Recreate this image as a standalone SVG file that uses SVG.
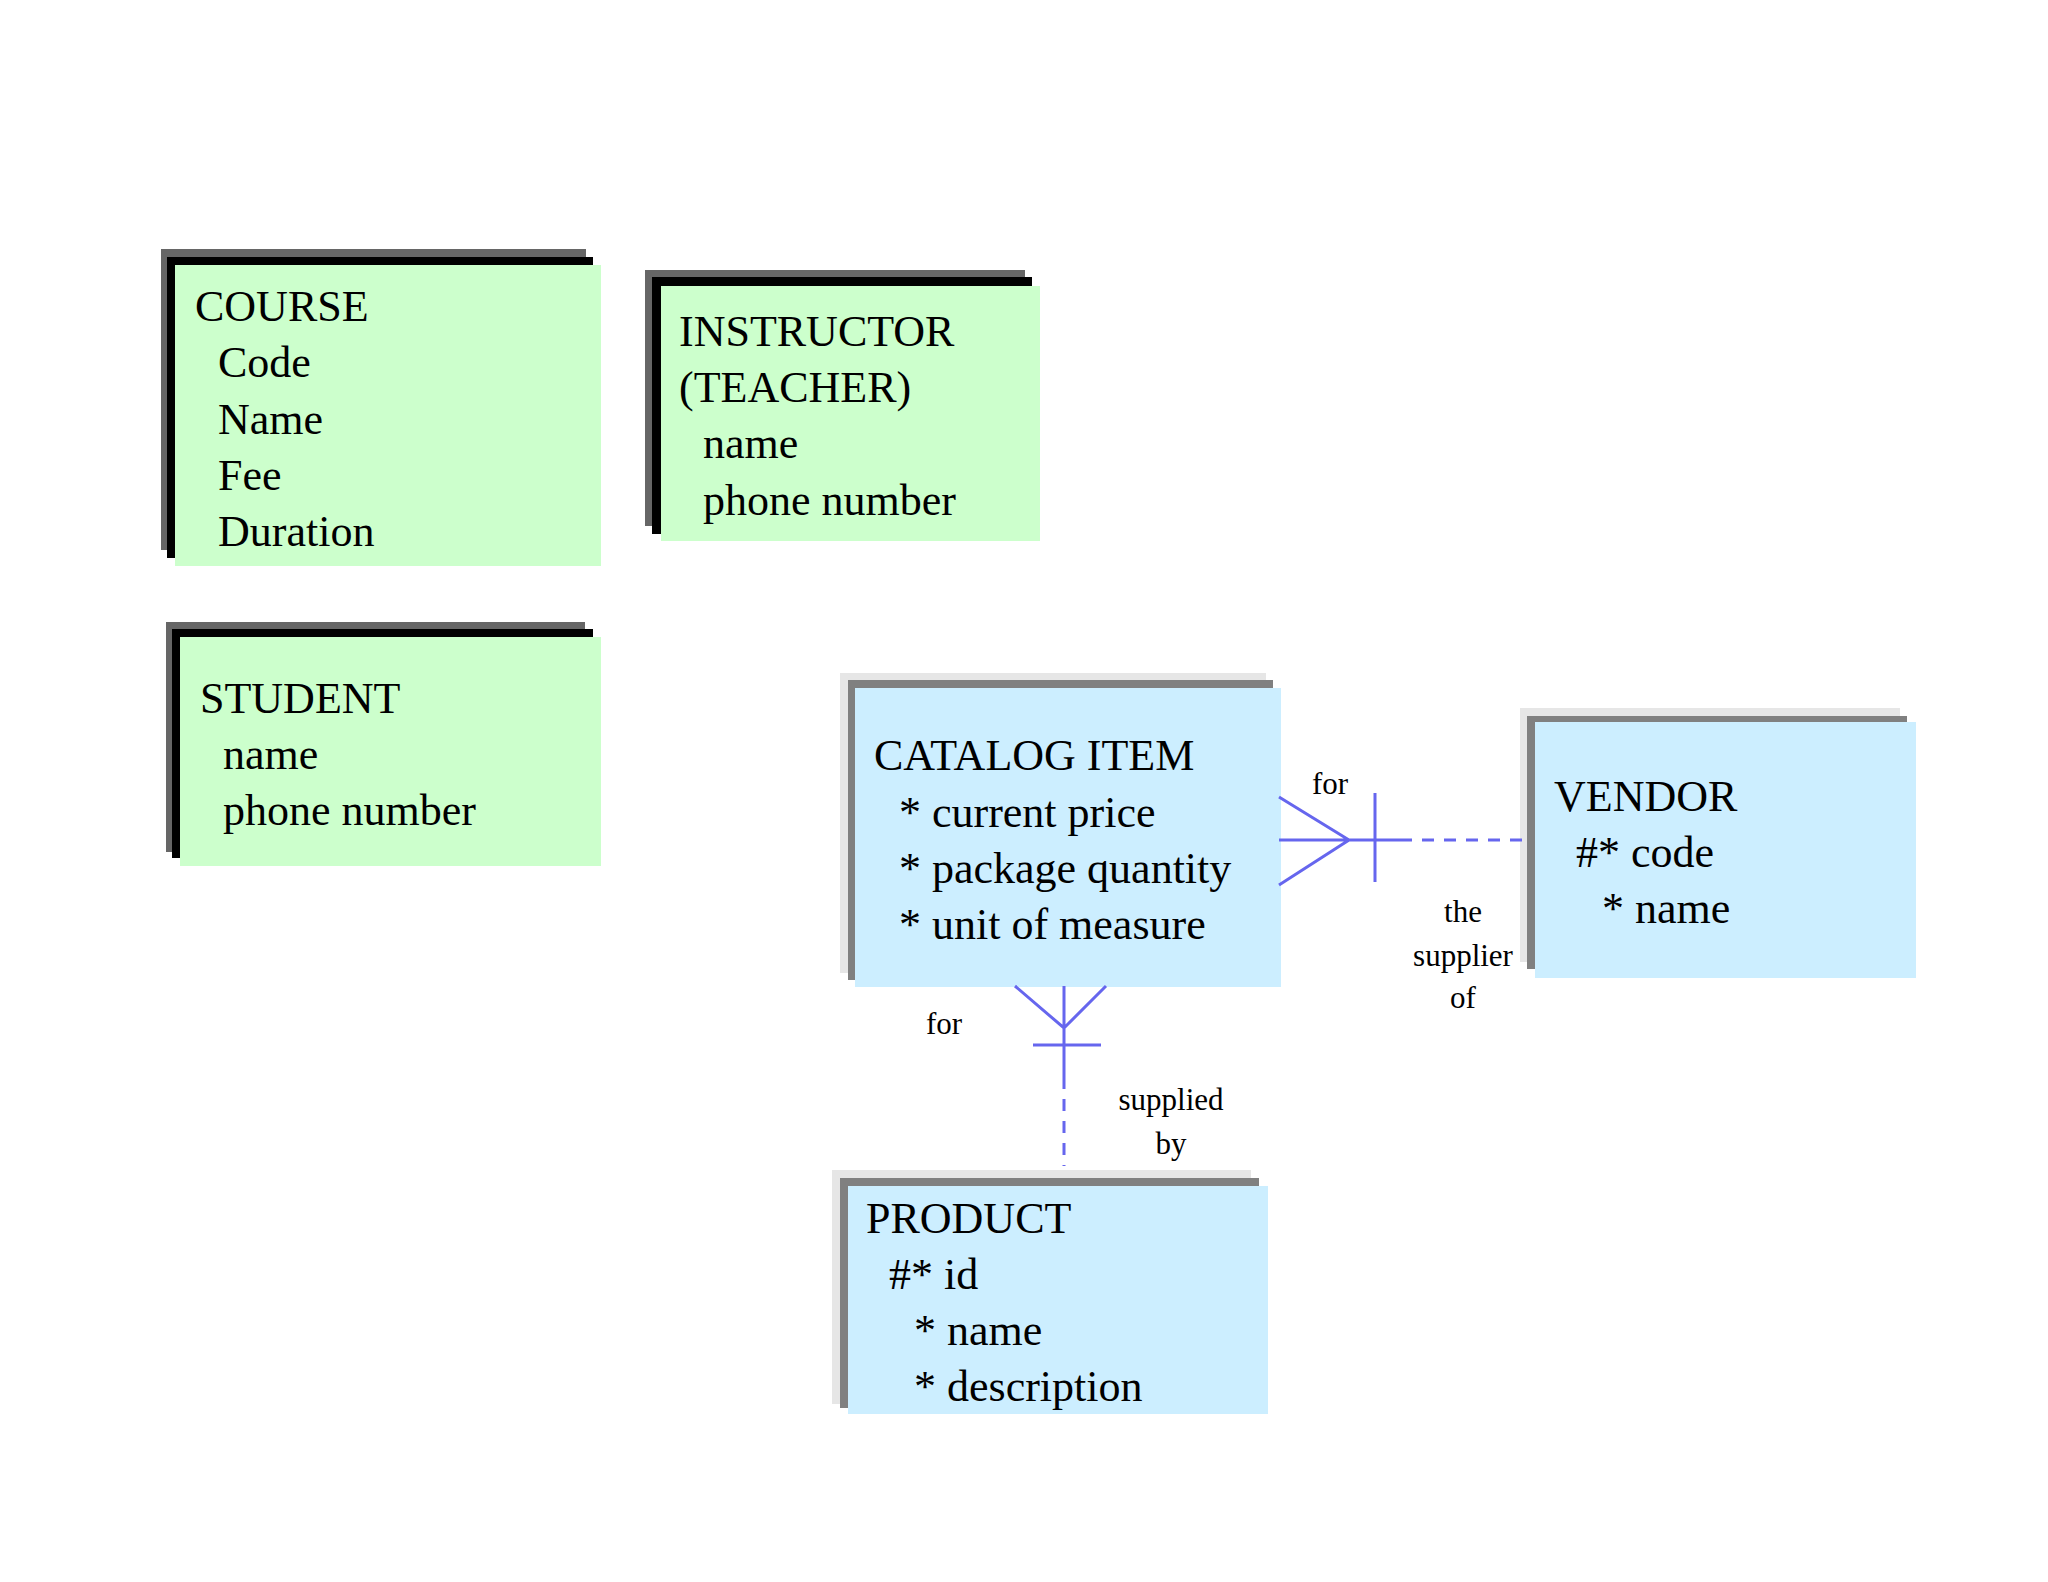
<svg xmlns="http://www.w3.org/2000/svg" width="2048" height="1582" viewBox="0 0 2048 1582">
<style>
text{font-family:"Liberation Serif","Times New Roman",serif;fill:#000}
.t{font-size:44px}
.l{font-size:31px}
.g{fill:#ccffcc}.b{fill:#cceeff}
.c{stroke:#6666ee;stroke-width:3;fill:none}
.d{stroke:#6666ee;stroke-width:3;fill:none;stroke-dasharray:12,10}
</style>
<rect width="2048" height="1582" fill="#fff"/>
<g id="course">
<rect x="161" y="249" width="425" height="301" fill="#666"/>
<rect x="167" y="257" width="426" height="301" fill="#000"/>
<rect class="g" x="175" y="265" width="426" height="301"/>
<text class="t" x="195" y="321">COURSE</text>
<text class="t" x="218" y="377">Code</text>
<text class="t" x="218" y="434">Name</text>
<text class="t" x="218" y="490">Fee</text>
<text class="t" x="218" y="546">Duration</text>
</g>
<g id="instructor">
<rect x="645" y="270" width="380" height="256" fill="#666"/>
<rect x="652" y="277" width="380" height="257" fill="#000"/>
<rect class="g" x="661" y="286" width="379" height="255"/>
<text class="t" x="679" y="346">INSTRUCTOR</text>
<text class="t" x="679" y="402">(TEACHER)</text>
<text class="t" x="703" y="458">name</text>
<text class="t" x="703" y="515">phone number</text>
</g>
<g id="student">
<rect x="166" y="622" width="419" height="230" fill="#666"/>
<rect x="172" y="629" width="421" height="229" fill="#000"/>
<rect class="g" x="180" y="637" width="421" height="229"/>
<text class="t" x="200" y="713">STUDENT</text>
<text class="t" x="223" y="769">name</text>
<text class="t" x="223" y="825">phone number</text>
</g>
<g id="catalog">
<rect x="840" y="673" width="426" height="300" fill="#e6e6e6"/>
<rect x="848" y="680" width="425" height="300" fill="#808080"/>
<rect class="b" x="855" y="688" width="426" height="299"/>
<text class="t" x="874" y="770">CATALOG ITEM</text>
<text class="t" x="899" y="827">* current price</text>
<text class="t" x="899" y="883">* package quantity</text>
<text class="t" x="899" y="939">* unit of measure</text>
</g>
<g id="vendor">
<rect x="1520" y="708" width="380" height="254" fill="#e6e6e6"/>
<rect x="1527" y="716" width="380" height="253" fill="#808080"/>
<rect class="b" x="1535" y="722" width="381" height="256"/>
<text class="t" x="1554" y="811">VENDOR</text>
<text class="t" x="1576" y="867">#* code</text>
<text class="t" x="1602" y="923">* name</text>
</g>
<g id="product">
<rect x="832" y="1170" width="419" height="234" fill="#e6e6e6"/>
<rect x="840" y="1178" width="419" height="230" fill="#808080"/>
<rect class="b" x="848" y="1186" width="420" height="228"/>
<text class="t" x="866" y="1233">PRODUCT</text>
<text class="t" x="889" y="1289">#* id</text>
<text class="t" x="914" y="1345">* name</text>
<text class="t" x="914" y="1401">* description</text>
</g>
<g id="connectors">
<path class="c" d="M1279 797 L1349 840 L1279 885 M1279 840 H1400 M1375 793 V882"/>
<path class="d" d="M1400 840 H1522"/>
<path class="c" d="M1015 986 L1064 1028 L1106 986 M1064 986 V1077 M1033 1045 H1101"/>
<path class="d" d="M1064 1077 V1166"/>
<text class="l" x="1312" y="794">for</text>
<text class="l" x="1463" y="922" text-anchor="middle">the</text>
<text class="l" x="1463" y="966" text-anchor="middle">supplier</text>
<text class="l" x="1463" y="1008" text-anchor="middle">of</text>
<text class="l" x="926" y="1034">for</text>
<text class="l" x="1171" y="1110" text-anchor="middle">supplied</text>
<text class="l" x="1171" y="1154" text-anchor="middle">by</text>
</g>
</svg>
